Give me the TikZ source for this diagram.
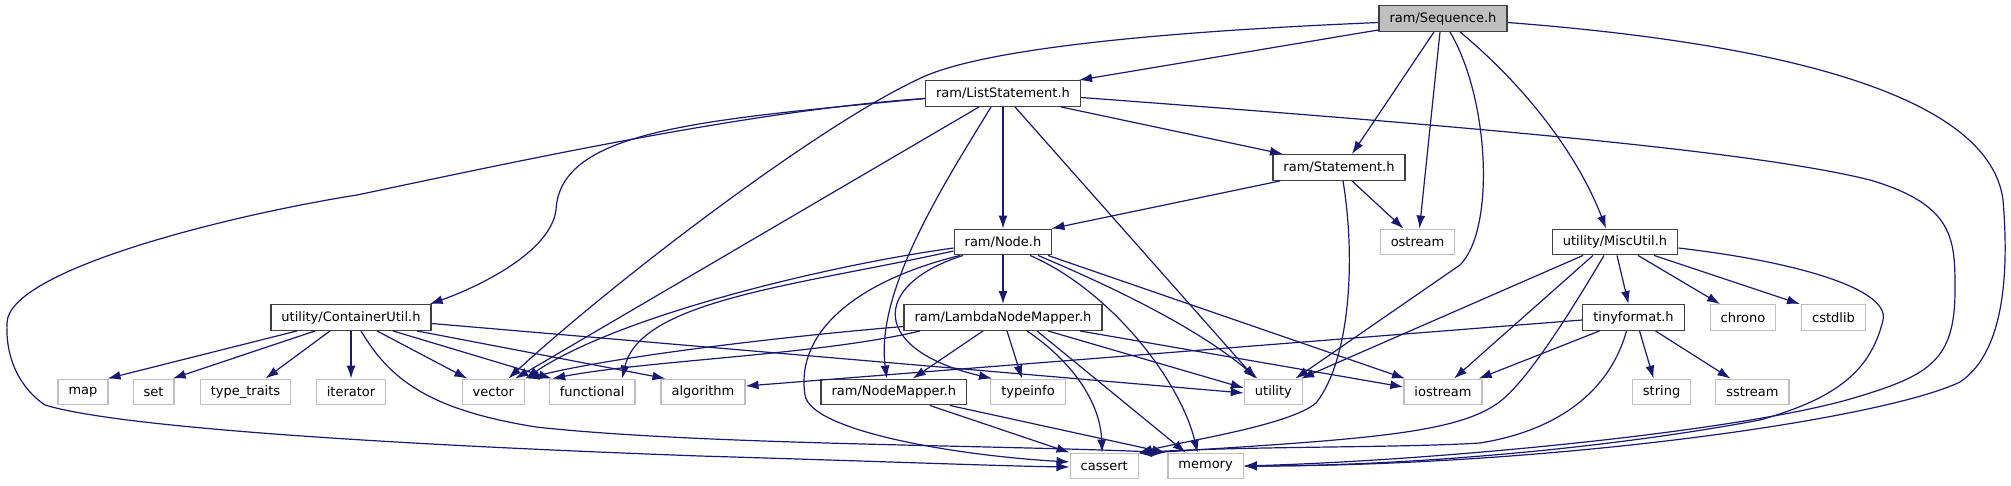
\documentclass[tikz,border=0pt]{standalone}
\usepackage{fontspec}
\setmainfont{DejaVu Sans}
\usetikzlibrary{arrows.meta}
\definecolor{edgeblue}{HTML}{191970}
\definecolor{sysgray}{HTML}{BFBFBF}
\definecolor{boxline}{HTML}{404040}
\begin{document}
\begin{tikzpicture}[x=1pt,y=-1pt]
\tikzstyle{arrow}=[draw=edgeblue,line width=1.2pt,-{Latex[length=13pt,width=9pt]}]
\tikzstyle{file}=[draw=boxline,line width=1.3pt,fill=white,minimum height=25.6pt,inner xsep=10.5pt,inner ysep=0pt,font=\fontsize{13}{15}\selectfont]
\tikzstyle{sys}=[file,draw=sysgray]
\tikzstyle{main}=[file,fill=sysgray]
\useasboundingbox (0,0) rectangle (2011,485);
% nodes
\node[main] (seq) at (1443,18.5) {ram/Sequence.h};
\node[file] (liststmt) at (1003,93.5) {ram/ListStatement.h};
\node[file] (stmt) at (1339,167.5) {ram/Statement.h};
\node[file] (ramnode) at (1003,242) {ram/Node.h};
\node[sys] (ostream) at (1417.5,242) {ostream};
\node[file] (miscutil) at (1615,242) {utility/MiscUtil.h};
\node[file] (contutil) at (351,317.5) {utility/ContainerUtil.h};
\node[file] (lambdamap) at (1003,317.5) {ram/LambdaNodeMapper.h};
\node[file] (tinyfmt) at (1633.5,317.5) {tinyformat.h};
\node[sys] (chrono) at (1743,317.5) {chrono};
\node[sys] (cstdlib) at (1833.5,317.5) {cstdlib};
\node[sys] (map) at (83,392) {map};
\node[sys] (set) at (153.6,392) {set};
\node[sys] (typetraits) at (245.5,392) {type\_traits};
\node[sys] (iterator) at (351,392) {iterator};
\node[sys] (vector) at (493.3,392) {vector};
\node[sys] (functional) at (592.2,392) {functional};
\node[sys] (algorithm) at (703,392) {algorithm};
\node[file] (nodemap) at (893.8,392) {ram/NodeMapper.h};
\node[sys] (typeinfo) at (1028,392) {typeinfo};
\node[sys] (utility) at (1273.4,392) {utility};
\node[sys] (iostream) at (1443,392) {iostream};
\node[sys] (string) at (1661.6,392) {string};
\node[sys] (sstream) at (1752.4,392) {sstream};
\node[sys] (cassert) at (1104.2,466) {cassert};
\node[sys] (memory) at (1205.6,466) {memory};
% ram/Sequence.h
\path[arrow] ([yshift=2pt]seq.south west) -- ([xshift=-2pt]liststmt.north east);
\path[arrow] ([yshift=-4pt]seq.west) .. controls (1250,28) and (1003,41) .. (923,77) .. controls (823,122) and (618,278) .. ([xshift=15pt]vector.north);
\path[arrow] ([xshift=-9pt]seq.south) -- ([xshift=13pt]stmt.north);
\path[arrow] ([xshift=-3pt]seq.south) -- ([xshift=2pt]ostream.north);
\path[arrow] ([xshift=7pt]seq.south) .. controls (1490,100) and (1495,230) .. (1460,265) -- ([xshift=22pt]utility.north);
\path[arrow] ([xshift=17pt]seq.south) .. controls (1530,90) and (1580,160) .. ([xshift=-9pt]miscutil.north);
\path[arrow] ([yshift=-4pt]seq.east) .. controls (1800,45) and (1990,100) .. (2003,200) .. controls (2008,260) and (2008,350) .. (1960,382) .. controls (1880,420) and (1550,466) .. (memory.east);
% ram/ListStatement.h
\path[arrow] ([xshift=58pt]liststmt.south) -- ([xshift=-56pt]stmt.north);
\path[arrow] (liststmt.south) -- (ramnode.north);
\path[arrow] ([xshift=-24pt]liststmt.south) -- ([xshift=22pt]vector.north);
\path[arrow] ([xshift=-12pt]liststmt.south) .. controls (946,181) and (875,290) .. ([xshift=-7pt]nodemap.north);
\path[arrow] ([xshift=12pt]liststmt.south) -- ([xshift=-18pt]utility.north);
\path[arrow] ([yshift=-5pt]liststmt.west) .. controls (700,120) and (560,130) .. (556,210) .. controls (550,255) and (470,290) .. ([xshift=-2pt]contutil.north east);
\path[arrow] ([yshift=-5pt]liststmt.west) .. controls (750,110) and (500,165) .. (357,195) .. controls (230,215) and (8,270) .. (7,323) .. controls (5,370) and (30,395) .. (45,405) .. controls (120,428) and (400,445) .. (700,456) .. controls (900,462) and (1000,466) .. ([yshift=-1pt]cassert.west);
\path[arrow] ([yshift=-4pt]liststmt.east) .. controls (1450,125) and (1750,150) .. (1870,180) .. controls (1955,205) and (1955,240) .. (1955,290) .. controls (1955,360) and (1930,375) .. (1857,397) .. controls (1750,430) and (1450,460) .. (memory.east);
% ram/Statement.h
\path[arrow] ([xshift=-59pt]stmt.south) -- ([xshift=-1pt]ramnode.north east);
\path[arrow] ([xshift=13pt]stmt.south) -- ([xshift=-14pt]ostream.north);
\path[arrow] ([xshift=4pt]stmt.south) .. controls (1356,260) and (1350,360) .. (1316,403) .. controls (1290,425) and (1190,440) .. (cassert.north east);
% ram/Node.h
\path[arrow] (ramnode.south) -- (lambdamap.north);
\path[arrow] ([yshift=-6pt]ramnode.west) .. controls (830,265) and (620,315) .. ([xshift=32pt]vector.north);
\path[arrow] ([yshift=-9pt]ramnode.west) .. controls (800,285) and (640,300) .. ([xshift=30pt]functional.north);
\path[arrow] ([xshift=-40pt]ramnode.south) .. controls (870,285) and (870,350) .. ([xshift=-36pt]typeinfo.north);
\path[arrow] ([xshift=-43pt]ramnode.south) .. controls (860,280) and (795,330) .. (805,395) .. controls (810,430) and (950,455) .. ([yshift=4pt]cassert.west);
\path[arrow] ([xshift=27pt]ramnode.south) .. controls (1110,290) and (1180,380) .. ([xshift=-8pt]memory.north);
\path[arrow] ([xshift=35pt]ramnode.south) .. controls (1120,290) and (1200,330) .. ([xshift=-16pt]utility.north);
\path[arrow] ([xshift=45pt]ramnode.south) -- ([xshift=-38pt]iostream.north);
% ram/LambdaNodeMapper.h
\path[arrow] ([yshift=-9pt]lambdamap.west) .. controls (800,335) and (620,355) .. ([xshift=33pt]vector.north);
\path[arrow] ([xshift=-83pt]lambdamap.south) .. controls (820,355) and (650,360) .. ([xshift=-40pt]functional.north);
\path[arrow] ([xshift=-20pt]lambdamap.south) -- ([xshift=19pt]nodemap.north);
\path[arrow] ([xshift=4pt]lambdamap.south) -- ([xshift=-6pt]typeinfo.north);
\path[arrow] ([xshift=24pt]lambdamap.south) .. controls (1070,360) and (1100,400) .. ([xshift=-2pt]cassert.north);
\path[arrow] ([xshift=34pt]lambdamap.south) -- ([xshift=-20pt]memory.north);
\path[arrow] ([xshift=45pt]lambdamap.south) -- ([yshift=4pt]utility.west);
\path[arrow] ([xshift=77pt]lambdamap.south) -- ([yshift=5pt]iostream.west);
% ram/NodeMapper.h
\path[arrow] ([xshift=36pt]nodemap.south) -- (cassert.north west);
\path[arrow] ([xshift=56pt]nodemap.south) -- ([xshift=-2pt]memory.north west);
% utility/ContainerUtil.h
\path[arrow] ([xshift=-54pt]contutil.south) -- ([xshift=-1pt]map.north east);
\path[arrow] ([xshift=-36pt]contutil.south) -- ([xshift=-2pt]set.north east);
\path[arrow] ([xshift=-21pt]contutil.south) -- ([xshift=20pt]typetraits.north);
\path[arrow] (contutil.south) -- (iterator.north);
\path[arrow] ([xshift=10pt]contutil.south) .. controls (390,380) and (430,410) .. (536,427) .. controls (700,445) and (1000,445) .. ([xshift=-2pt]memory.north west);
\path[arrow] ([xshift=26pt]contutil.south) -- ([xshift=-26pt]vector.north);
\path[arrow] ([xshift=42pt]contutil.south) -- ([xshift=3pt]functional.north west);
\path[arrow] ([xshift=66pt]contutil.south) -- ([xshift=5pt]algorithm.north west);
\path[arrow] ([yshift=-6pt]contutil.east) -- ([yshift=-1pt]utility.west);
% utility/MiscUtil.h
\path[arrow] ([xshift=-32pt]miscutil.south) -- ([xshift=-2pt]utility.north east);
\path[arrow] ([xshift=-22pt]miscutil.south) -- ([xshift=11pt]iostream.north);
\path[arrow] ([xshift=-11pt]miscutil.south) .. controls (1560,330) and (1520,390) .. (1495,405) .. controls (1450,435) and (1350,440) .. ([yshift=-1pt]cassert.north east);
\path[arrow] ([xshift=2pt]miscutil.south) -- ([xshift=-5pt]tinyfmt.north);
\path[arrow] ([xshift=23pt]miscutil.south) -- ([xshift=-23pt]chrono.north);
\path[arrow] ([xshift=39pt]miscutil.south) -- ([xshift=-1pt]cstdlib.north west);
\path[arrow] ([yshift=-6pt]miscutil.east) .. controls (1800,262) and (1890,290) .. (1883,320) .. controls (1870,375) and (1830,400) .. (1760,420) .. controls (1600,450) and (1400,466) .. (memory.east);
% tinyformat.h
\path[arrow] ([yshift=-2.5pt]tinyfmt.west) -- ([yshift=6pt]algorithm.east);
\path[arrow] ([xshift=-34pt]tinyfmt.south) -- ([xshift=-4pt]iostream.north east);
\path[arrow] ([xshift=-7pt]tinyfmt.south) .. controls (1610,390) and (1560,430) .. (1480,443) .. controls (1400,448) and (1250,446) .. (cassert.north east);
\path[arrow] ([xshift=6pt]tinyfmt.south) -- ([xshift=-8pt]string.north);
\path[arrow] ([xshift=22pt]tinyfmt.south) -- ([xshift=-22pt]sstream.north);
\end{tikzpicture}
\end{document}
